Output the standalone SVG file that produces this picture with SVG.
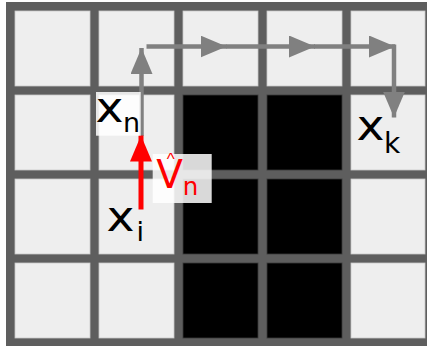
<svg xmlns="http://www.w3.org/2000/svg" width="427" height="346" viewBox="0 0 427 346">
<style>
.frame{fill:#5e5e5e}
.cell{fill:#eeeeee;stroke:#c8c8c8;stroke-width:0.8}
.blk{fill:#000000;stroke:#3a3a3a;stroke-width:0.8}
.lbox{fill:#ffffff;fill-opacity:0.85}
.t{font-family:"DejaVu Sans",sans-serif;fill:#000}
.r{fill:#ff0000}
.gl{stroke:#808080;stroke-width:4.5;fill:none}
.rl{stroke:#ff0000;stroke-width:5;fill:none}
</style>
<defs>
<marker id="ga" markerUnits="userSpaceOnUse" markerWidth="26" markerHeight="22" refX="26" refY="11" orient="auto" viewBox="0 0 26 22">
<path d="M0,0 L26,11 L0,22 Z" fill="#808080"/>
</marker>
<marker id="ra" markerUnits="userSpaceOnUse" markerWidth="26" markerHeight="22" refX="26" refY="11" orient="auto" viewBox="0 0 26 22">
<path d="M0,0 L26,11 L0,22 Z" fill="#ff0000"/>
</marker>
</defs>
<rect class="frame" x="6" y="2" width="421" height="344"/>
<g id="grid">
<rect class="cell" x="15" y="11" width="75" height="75"/>
<rect class="cell" x="99" y="11" width="75" height="75"/>
<rect class="cell" x="183" y="11" width="75" height="75"/>
<rect class="cell" x="267" y="11" width="75" height="75"/>
<rect class="cell" x="351" y="11" width="74" height="75"/>
<rect class="cell" x="15" y="95" width="75" height="75"/>
<rect class="cell" x="99" y="95" width="75" height="75"/>
<rect class="blk" x="183" y="95" width="75" height="75"/>
<rect class="blk" x="267" y="95" width="75" height="75"/>
<rect class="cell" x="351" y="95" width="74" height="75"/>
<rect class="cell" x="15" y="179" width="75" height="75"/>
<rect class="cell" x="99" y="179" width="75" height="75"/>
<rect class="blk" x="183" y="179" width="75" height="75"/>
<rect class="blk" x="267" y="179" width="75" height="75"/>
<rect class="cell" x="351" y="179" width="74" height="75"/>
<rect class="cell" x="15" y="263" width="75" height="75"/>
<rect class="cell" x="99" y="263" width="75" height="75"/>
<rect class="blk" x="183" y="263" width="75" height="75"/>
<rect class="blk" x="267" y="263" width="75" height="75"/>
<rect class="cell" x="351" y="263" width="74" height="75"/>
</g>
<g id="connectors">
<line class="gl" x1="141.5" y1="136" x2="141.5" y2="48" marker-end="url(#ga)"/>
<line class="gl" x1="146.5" y1="46.5" x2="226.5" y2="46.5" marker-end="url(#ga)"/>
<line class="gl" x1="226" y1="46.5" x2="315" y2="46.5" marker-end="url(#ga)"/>
<line class="gl" x1="314" y1="46.5" x2="395" y2="46.5" marker-end="url(#ga)"/>
<line class="gl" x1="394" y1="44.5" x2="394" y2="117.5" marker-end="url(#ga)"/>
<line class="rl" x1="141" y1="209.5" x2="141" y2="135.5" marker-end="url(#ra)"/>
</g>
<g id="node-xn">
<rect class="lbox" x="96" y="92" width="44.7" height="43.7"/>
<text class="t" transform="translate(95.5 121.7) scale(1.1 1)" x="0" y="0" font-size="43">x</text>
<text class="t" x="123" y="131.7" font-size="27">n</text>
</g>
<g id="node-vn">
<rect class="lbox" x="152.7" y="154" width="59" height="49"/>
<text class="t r" x="156.3" y="188.3" font-size="39">V<tspan x="166.7" y="164.7" font-size="17" style="font-family:'Liberation Sans',sans-serif">^</tspan><tspan x="182.8" y="195" font-size="24.5">n</tspan></text>
</g>
<g id="node-xi">
<text class="t" transform="translate(106.5 231) scale(1.1 1)" x="0" y="0" font-size="43">x</text>
<text class="t" x="136.5" y="241" font-size="27">i</text>
</g>
<g id="node-xk">
<text class="t" transform="translate(356.5 140) scale(1.1 1)" x="0" y="0" font-size="43">x</text>
<text class="t" x="384" y="152.7" font-size="28">k</text>
</g>
</svg>
